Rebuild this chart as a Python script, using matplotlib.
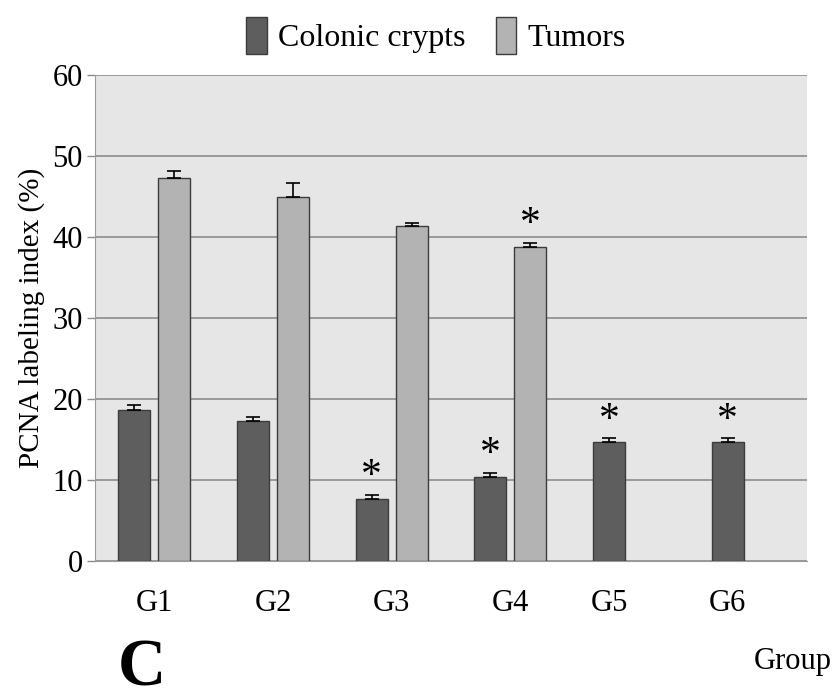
import numpy as np
import matplotlib
matplotlib.use("Agg")
import matplotlib.pyplot as plt
from matplotlib.patches import Patch

# values (PCNA labeling index, %)
groups = ["G1", "G2", "G3", "G4", "G5", "G6"]
crypts = [18.6, 17.3, 7.7, 10.4, 14.7, 14.7]
crypts_err = [0.7, 0.45, 0.5, 0.5, 0.45, 0.45]
tumors = [47.3, 45.0, 41.3, 38.8, None, None]
tumors_err = [0.9, 1.7, 0.45, 0.5, None, None]
crypts_sig = [False, False, True, True, True, True]
tumors_sig = [False, False, False, True, False, False]

plt.rcParams["font.family"] = ["Liberation Serif", "DejaVu Serif"]

dark = "#5e5e5e"
light = "#b3b3b3"
edge = "#3c3c3c"

fig = plt.figure(figsize=(8.38, 7.0), dpi=100)
ax = fig.add_axes([95 / 838, 1 - 561 / 700, (807 - 95) / 838, (561 - 75) / 700])
ax.set_facecolor("#e6e6e6")

x = np.arange(len(groups))
w = 0.27
off = 0.168

has_tumor = np.array([t is not None for t in tumors])
t_vals = np.array([t if t is not None else 0 for t in tumors])
t_errs = np.array([e if e is not None else 0 for e in tumors_err])

ax.bar(x - off, crypts, w, color=dark, edgecolor=edge, linewidth=1, zorder=3)
ax.errorbar(x - off, crypts, yerr=[np.zeros(len(x)), crypts_err], fmt="none",
            ecolor="black", elinewidth=1.2, capsize=5, capthick=1.2, zorder=4)
ax.bar(x[has_tumor] + off, t_vals[has_tumor], w, color=light, edgecolor=edge,
       linewidth=1, zorder=3)
ax.errorbar(x[has_tumor] + off, t_vals[has_tumor],
            yerr=[np.zeros(has_tumor.sum()), t_errs[has_tumor]], fmt="none",
            ecolor="black", elinewidth=1.2, capsize=5, capthick=1.2, zorder=4)

# significance stars
for i in range(len(groups)):
    if crypts_sig[i]:
        ax.annotate("*", (x[i] - off, crypts[i] + crypts_err[i]), xytext=(0, -1),
                    textcoords="offset points", ha="center", va="bottom", fontsize=30)
    if tumors_sig[i]:
        ax.annotate("*", (x[i] + off, t_vals[i] + t_errs[i]), xytext=(0, -1),
                    textcoords="offset points", ha="center", va="bottom", fontsize=30)

ax.set_xlim(-0.5, len(groups) - 0.5)
ax.set_ylim(0, 60)
ax.set_yticks(np.arange(0, 61, 10))
ax.yaxis.grid(True, color="#858585", linewidth=1.1, zorder=0)
ax.set_axisbelow(True)

# labels sit under the bars that are present
tick_pos = np.where(has_tumor, x, x - off)
ax.set_xticks(tick_pos)
ax.set_xticklabels(groups)
ax.tick_params(axis="x", length=0, pad=20, labelsize=22)
ax.tick_params(axis="y", length=6, width=1, color="#8a8a8a", pad=3, labelsize=22)

for s in ["top", "right"]:
    ax.spines[s].set_visible(False)
ax.spines["left"].set_color("#9a9a9a")
ax.spines["bottom"].set_color("#9a9a9a")

ax.set_ylabel("PCNA labeling index (%)", fontsize=21, labelpad=5)

handles = [Patch(facecolor=dark, edgecolor=edge, label="Colonic crypts"),
           Patch(facecolor=light, edgecolor=edge, label="Tumors")]
fig.legend(handles=handles, loc="center", bbox_to_anchor=(0.52, 0.949), ncol=2,
           frameon=False, fontsize=23, handlelength=0.65, handleheight=1.4,
           handletextpad=0.35, columnspacing=0.95)

fig.text(118 / 838, 1 / 700, "C", fontsize=48, fontweight="bold",
         ha="left", va="bottom")
fig.text(832 / 838, 1 - 661 / 700, "Group", fontsize=22, ha="right", va="center")

fig.savefig("out.png", dpi=100)
